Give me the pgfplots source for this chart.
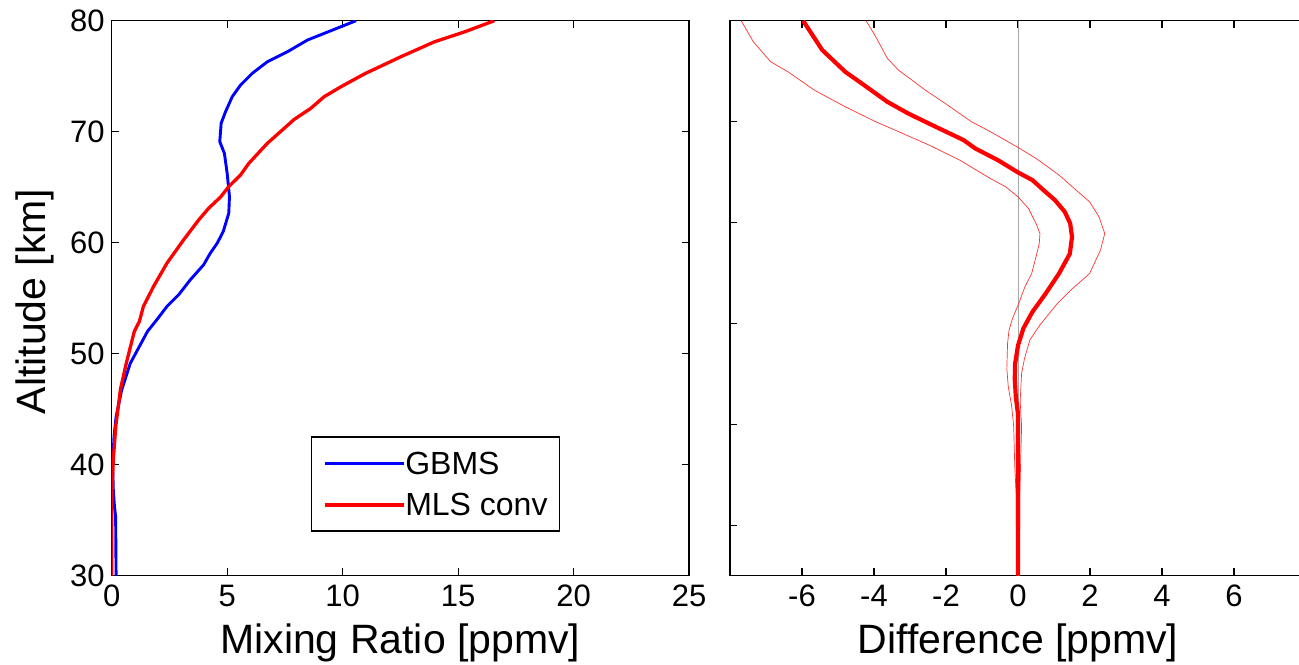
\documentclass[border=0pt]{standalone}
\usepackage{fontspec}
\setmainfont{Liberation Sans}
\usepackage{pgfplots}
\pgfplotsset{compat=1.18}
\begin{document}
\begin{tikzpicture}
\pgfplotsset{
  mystyle/.style={
    scale only axis,
    width=288.65pt, height=277.4pt,
    anchor=south west,
    axis line style={black, line width=0.55pt},
    tick align=inside, tick pos=both,
    major tick length=3.6pt,
    every tick/.style={black, line width=0.55pt},
    tick label style={font=\fontsize{15.5}{15.5}\selectfont},
    xticklabel style={yshift=-1.1pt},
    label style={font=\fontsize{20.5}{20.5}\selectfont},
    /pgf/number format/assume math mode=true,
  }
}
\begin{axis}[mystyle,
  at={(55.85pt,44.25pt)},
  xmin=0, xmax=25, ymin=30, ymax=80,
  xtick={0,5,10,15,20,25}, xticklabels={0,5,10,15,20,25},
  ytick={30,40,50,60,70,80}, yticklabels={30,40,50,60,70,80},
  xlabel={Mixing Ratio [ppmv]},
  ylabel={Altitude [km]},
  xlabel style={at={(axis description cs:0.5,-0.1397)}, anchor=base},
  ylabel style={at={(axis description cs:-0.1155,0.494)}, anchor=base},
  legend style={at={(0.3447,0.079)}, anchor=south west, draw=black, line width=0.6pt,
    font=\fontsize{16}{16}\selectfont, inner xsep=5.85pt, inner ysep=3pt, row sep=0.7pt,
    nodes={inner xsep=0pt, inner ysep=0pt, text height=15.5pt, text depth=4.65pt}},
  legend cell align=left,
  legend image code/.code={\draw[#1] (1.3pt,0pt) -- (35.3pt,0pt); \path (0pt,0pt) -- (39.5pt,0pt);},
]
\addplot[color={rgb,255:red,0;green,0;blue,255}, line width=1.45pt] coordinates {
(10.58,80) (9.93,79.46) (8.48,78.26) (7.61,77.2) (6.74,76.3) (6.09,75.26) (5.58,74.2) (5.22,73.15) (4.93,71.8) (4.74,70.76) (4.68,69.1) (4.88,68.05) (5.0,66.25) (5.1,64.15) (5.07,62.65) (4.83,61.0) (4.57,59.95) (4.27,59.05) (3.98,58.0) (3.4,56.64) (2.9,55.3) (2.39,54.24) (1.95,53.04) (1.55,52.0) (0.8,49.1) (0.43,46.7) (0.19,44.3) (0.1,42.5) (0.04,39.9) (0.07,37.7) (0.12,36.2) (0.17,35.3) (0.19,30)
};
\addlegendentry{GBMS}
\addplot[color={rgb,255:red,255;green,0;blue,0}, line width=1.65pt] coordinates {
(16.57,80) (15.29,79.0) (13.98,78.1) (12.53,76.76) (10.94,75.2) (9.93,74.05) (9.2,73.15) (8.62,72.1) (7.9,71.1) (7.39,70.15) (6.74,68.95) (5.94,67.15) (5.58,66.1) (5.07,65.05) (4.71,64.1) (4.2,63.1) (3.77,62.05) (3.11,60.24) (2.39,58.14) (1.81,56.04) (1.37,54.24) (1.2,52.9) (0.98,52.0) (0.64,49.2) (0.38,46.8) (0.18,43.5) (0.07,40.5) (0.02,38) (0.0,36) (0.0,30)
};
\addlegendentry{MLS conv}
\end{axis}
\begin{axis}[mystyle,
  at={(365pt,44.25pt)}, width=288pt,
  xmin=-8, xmax=8, ymin=25, ymax=80,
  xtick={-6,-4,-2,0,2,4,6}, xticklabels={-6,-4,-2,0,2,4,6},
  ytick={30,40,50,60,70,80}, yticklabels={},
  xlabel={Difference [ppmv]},
  xlabel style={at={(axis description cs:0.5,-0.1397)}, anchor=base},
]
\addplot[gray!70, line width=0.5pt] coordinates {(0,25) (0,80)};
\addplot[red!80, line width=0.35pt] coordinates {
(-4.22,80) (-3.95,78.4) (-3.63,76.27) (-3.32,75.1) (-2.94,74.1) (-2.57,73.1) (-1.94,71.6) (-1.3,70.0) (-0.77,69.0) (-0.03,67.5) (0.5,66.35) (1.14,64.7) (1.56,63.37) (1.99,62.04) (2.25,60.56) (2.41,58.9) (2.29,57.25) (1.99,54.94) (1.46,53.28) (1.1,52.0) (0.6,49.8) (0.33,48.35) (0.18,46.5) (0.1,45.05) (0.06,42.3) (0.1,39.8) (0.07,35.8) (0.05,33) (0.04,25)
};
\addplot[red!80, line width=0.35pt] coordinates {
(-7.69,80) (-7.35,77.9) (-6.87,75.93) (-6.39,74.94) (-5.65,73.1) (-4.8,71.47) (-3.95,69.98) (-3.31,68.99) (-2.47,67.67) (-1.62,66.18) (-0.77,64.36) (-0.34,63.53) (0,62.54) (0.29,61.39) (0.5,59.9) (0.61,58.9) (0.59,57.9) (0.5,56.59) (0.38,54.94) (0.19,53.6) (0.02,51.97) (-0.15,50.5) (-0.25,49.3) (-0.29,48.0) (-0.31,45.5) (-0.27,43.7) (-0.18,41.9) (-0.12,39.8) (-0.09,35.8) (-0.05,33) (-0.04,25)
};
\addplot[red, line width=2.1pt] coordinates {
(-5.97,80) (-5.44,77.1) (-4.8,74.94) (-4.27,73.6) (-3.63,71.96) (-3.05,70.8) (-2.47,69.8) (-1.51,68.16) (-1.19,67.34) (-0.56,66.18) (0,64.96) (0.4,64.2) (0.71,63.2) (1.03,62.2) (1.3,61.05) (1.45,59.9) (1.5,58.57) (1.44,56.9) (1.14,54.94) (0.77,52.96) (0.4,51.13) (0.15,49.5) (0.0,47.8) (-0.08,46.0) (-0.09,44.5) (-0.06,42.7) (0,41) (0,35) (0,25)
};
\end{axis}
\pgfresetboundingbox
\useasboundingbox (0pt,0pt) rectangle (649.5pt,332pt);
\end{tikzpicture}
\end{document}
